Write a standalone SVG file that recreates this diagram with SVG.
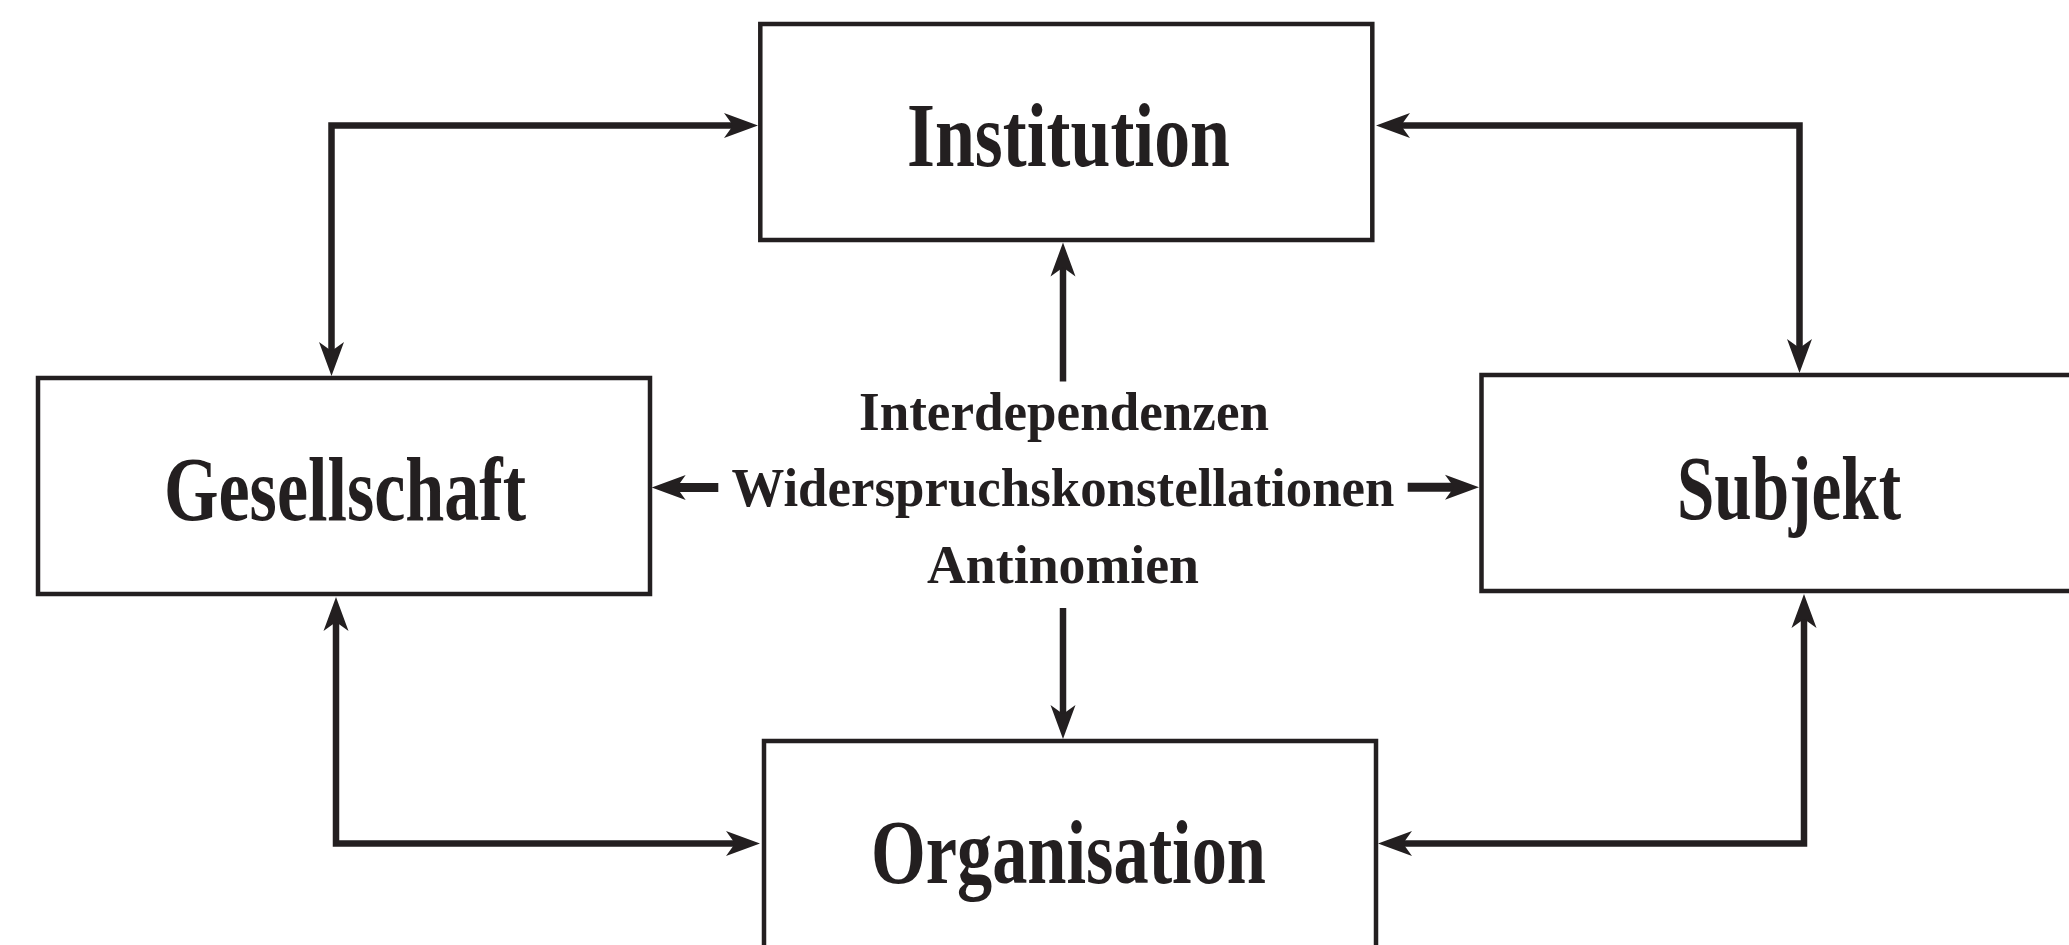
<svg xmlns="http://www.w3.org/2000/svg" width="2069" height="945" viewBox="0 0 2069 945">
  <style>
    .box { fill: #ffffff; stroke: #231f20; stroke-width: 4.5; }
    .lbl { font-family: "Liberation Serif", "DejaVu Serif", serif; font-weight: bold; fill: #231f20; }
    .big { font-size: 91px; }
    .mid { font-size: 55px; }
    .con { fill: none; stroke: #231f20; stroke-width: 6.5; stroke-linejoin: miter; stroke-linecap: butt; }
    .thick { stroke-width: 9; }
  </style>
  <defs>
    <marker id="ah" viewBox="-36 -15 38 30" markerWidth="38" markerHeight="30" refX="-20" refY="0" orient="auto-start-reverse" markerUnits="userSpaceOnUse">
      <path d="M0,0 L-34,-12.5 L-25,0 L-34,12.5 Z" fill="#231f20"/>
    </marker>
  </defs>
  <rect width="2069" height="945" fill="#ffffff"/>

  <g id="institution">
    <rect class="box" x="760.3" y="24" width="612" height="216"/>
    <text class="lbl big" x="907" y="166" textLength="323" lengthAdjust="spacingAndGlyphs">Institution</text>
  </g>
  <g id="gesellschaft">
    <rect class="box" x="38" y="378" width="612" height="216"/>
    <text class="lbl big" x="164" y="520" textLength="362" lengthAdjust="spacingAndGlyphs">Gesellschaft</text>
  </g>
  <g id="subjekt">
    <rect class="box" x="1481.5" y="375" width="612" height="216"/>
    <text class="lbl big" x="1677" y="519" textLength="224" lengthAdjust="spacingAndGlyphs">Subjekt</text>
  </g>
  <g id="organisation">
    <rect class="box" x="764" y="741" width="612" height="216"/>
    <text class="lbl big" x="871" y="883" textLength="395" lengthAdjust="spacingAndGlyphs">Organisation</text>
  </g>
  <g id="center">
    <text class="lbl mid" x="859" y="429.5" textLength="410" lengthAdjust="spacingAndGlyphs">Interdependenzen</text>
    <text class="lbl mid" x="731.5" y="505.5" textLength="663" lengthAdjust="spacingAndGlyphs">Widerspruchskonstellationen</text>
    <text class="lbl mid" x="927" y="583" textLength="272" lengthAdjust="spacingAndGlyphs">Antinomien</text>
  </g>

  <g id="connectors">
    <path class="con" d="M331.5,356 V125.5 H738" marker-start="url(#ah)" marker-end="url(#ah)"/>
    <path class="con" d="M1396,125.5 H1799.5 V353" marker-start="url(#ah)" marker-end="url(#ah)"/>
    <path class="con" d="M336,617 V843.5 H740" marker-start="url(#ah)" marker-end="url(#ah)"/>
    <path class="con" d="M1804,614 V843.5 H1398" marker-start="url(#ah)" marker-end="url(#ah)"/>
    <path class="con" d="M1063,381.5 V262.5" marker-end="url(#ah)"/>
    <path class="con" d="M1063,608 V719" marker-end="url(#ah)"/>
    <path class="con thick" d="M718.3,487.5 H671.7" marker-end="url(#ah)"/>
    <path class="con thick" d="M1407.7,487.3 H1459" marker-end="url(#ah)"/>
  </g>
</svg>
